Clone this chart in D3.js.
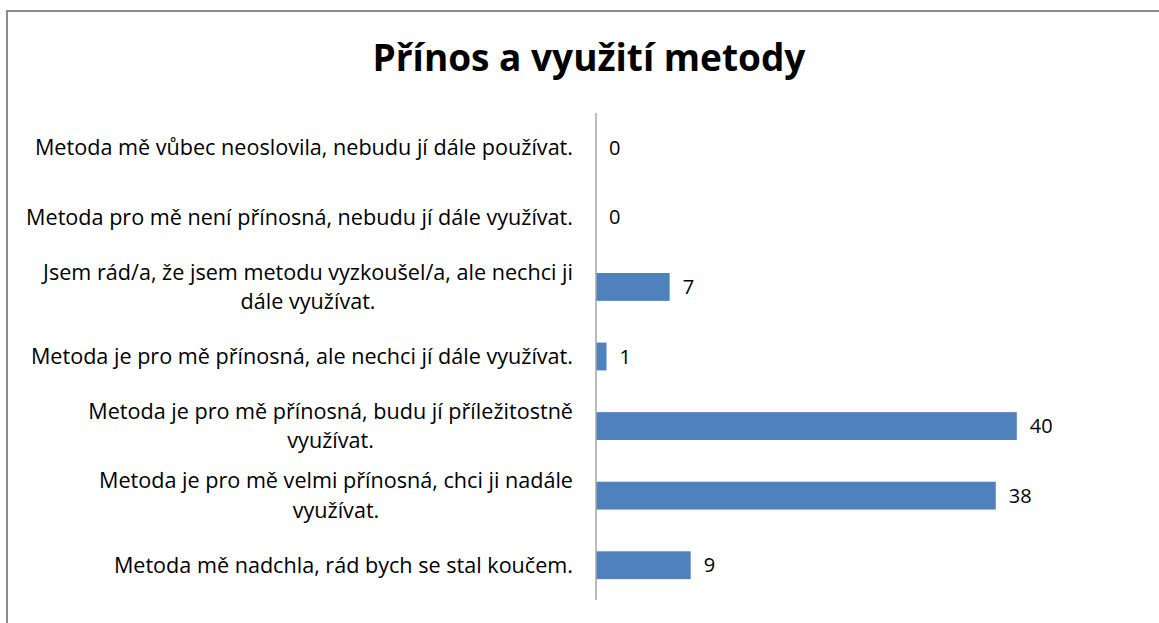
<!DOCTYPE html>
<html>
<head>
<meta charset="utf-8">
<script src="https://cdn.jsdelivr.net/npm/d3@7"></script>
<style>
  body { margin: 0; background: #fff; }
  svg { display: block; }
  text { font-family: "Open Sans", Lato, sans-serif; fill: #000; }
</style>
</head>
<body>
<div id="vis"></div>
<script>
const W = 1159;
const H = 623;

// categories top to bottom, each split into its lines
const categories = [
  ["Metoda mě vůbec neoslovila, nebudu jí dále používat."],
  ["Metoda pro mě není přínosná, nebudu jí dále využívat."],
  ["Jsem rád/a, že jsem metodu vyzkoušel/a, ale nechci ji", "dále využívat."],
  ["Metoda je pro mě přínosná, ale nechci jí dále využívat."],
  ["Metoda je pro mě přínosná, budu jí příležitostně", "využívat."],
  ["Metoda je pro mě velmi přínosná, chci ji nadále", "využívat."],
  ["Metoda mě nadchla, rád bych se stal koučem."]
];
const values = [0, 0, 7, 1, 40, 38, 9];
const title = "Přínos a využití metody";

const plot = { left: 596, right: 1122, top: 113, bottom: 600 };

const svg = d3.select("#vis")
  .append("svg")
  .attr("width", W)
  .attr("height", H);

// outer chart frame
svg.append("rect")
  .attr("x", 7)
  .attr("y", 11)
  .attr("width", W + 20)
  .attr("height", H + 20)
  .attr("fill", "#fff")
  .attr("stroke", "#8c8c8c")
  .attr("stroke-width", 2);

svg.append("text")
  .attr("x", 589)
  .attr("y", 71)
  .attr("text-anchor", "middle")
  .style("font-size", "37px")
  .style("font-weight", "bold")
  .text(title);

const idx = d3.range(categories.length);

const y = d3.scaleBand()
  .domain(idx)
  .range([plot.top, plot.bottom])
  .paddingInner(0.6)
  .paddingOuter(0.3);

const x = d3.scaleLinear()
  .domain([0, 50])
  .range([plot.left, plot.right]);

// bars
svg.selectAll(".bar")
  .data(idx)
  .enter()
  .append("rect")
  .attr("class", "bar")
  .attr("x", x(0))
  .attr("y", (i) => y(i))
  .attr("width", (i) => x(values[i]) - x(0))
  .attr("height", y.bandwidth())
  .attr("fill", "#4f81bd");

// vertical axis line
svg.append("line")
  .attr("x1", plot.left)
  .attr("x2", plot.left)
  .attr("y1", plot.top)
  .attr("y2", plot.bottom)
  .attr("stroke", "#a6a6a6")
  .attr("stroke-width", 1.5);

// value labels
svg.selectAll(".val")
  .data(idx)
  .enter()
  .append("text")
  .attr("class", "val")
  .attr("x", (i) => x(values[i]) + 13)
  .attr("y", (i) => y(i) + y.bandwidth() / 2)
  .attr("dy", "0.35em")
  .style("font-size", "20px")
  .text((i) => values[i]);

// category labels: block right-aligned, lines centred within the block
const labelRight = 573;
const lineH = 29.5;
idx.forEach((i) => {
  const lines = categories[i];
  const cy = y(i) + y.bandwidth() / 2;
  const t = svg.append("text")
    .attr("text-anchor", "middle")
    .style("font-size", "21.6px");
  const spans = lines.map((ln, k) =>
    t.append("tspan")
      .attr("y", cy + (k - (lines.length - 1) / 2) * lineH)
      .attr("dy", "0.35em")
      .text(ln)
  );
  const maxW = d3.max(spans, (s) => s.node().getComputedTextLength());
  spans.forEach((s) => s.attr("x", labelRight - maxW / 2));
});
</script>
</body>
</html>
